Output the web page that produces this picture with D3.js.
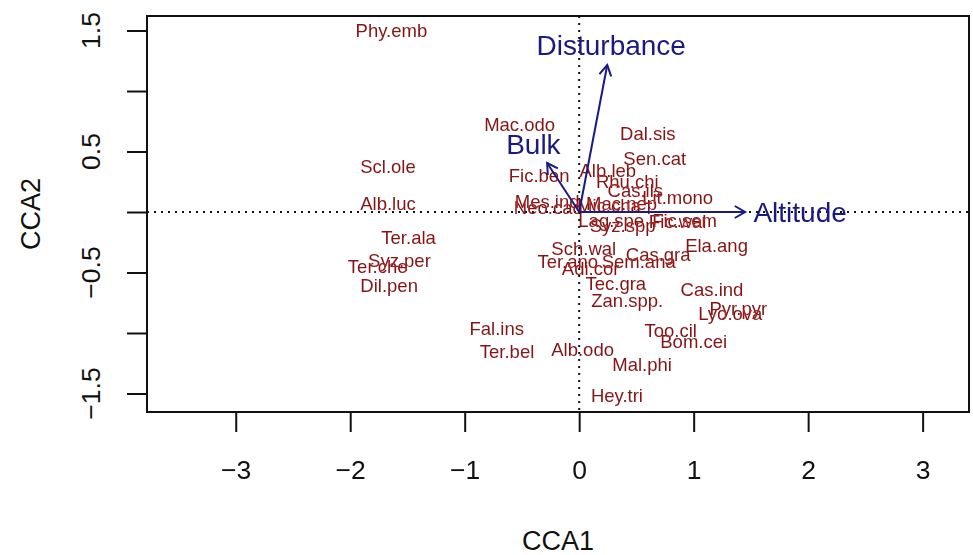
<!DOCTYPE html>
<html>
<head>
<meta charset="utf-8">
<script src="https://cdn.jsdelivr.net/npm/d3@7"></script>
<style>
  html, body { margin: 0; padding: 0; background: #fff; }
  svg { display: block; font-family: "Liberation Sans", Arial, Helvetica, sans-serif; }
</style>
</head>
<body>
<svg id="chart" width="973" height="555"></svg>
<script>
// Species scores (CCA1, CCA2)
const species = ["Phy.emb","Mac.odo","Dal.sis","Sen.cat","Scl.ole","Alb.luc","Fic.ben","Alb.leb",
  "Rhu.chi","Cas.ils","Lit.mono","Mac.nep","Mic.cha","Mes.ind","Neo.cad","Lag.spe","Syz.spp",
  "Fic.wal","Fic.sem","Sch.wal","Cas.gra","Ela.ang","Ter.ano","Adi.cor","Sem.ana","Tec.gra",
  "Zan.spp.","Cas.ind","Lyo.ova","Pyr.pyr","Too.cil","Bom.cei","Mal.phi","Alb.odo","Hey.tri",
  "Ter.bel","Fal.ins","Ter.ala","Syz.per","Ter.che","Dil.pen"];
const cca1 = [-1.64,-0.52,0.60,0.66,-1.67,-1.67,-0.35,0.25,
  0.42,0.49,0.86,0.37,0.26,-0.28,-0.27,0.28,0.38,
  0.86,0.92,0.04,0.69,1.20,-0.10,0.10,0.52,0.32,
  0.42,1.16,1.32,1.39,0.80,1.00,0.55,0.03,0.33,
  -0.63,-0.72,-1.49,-1.57,-1.76,-1.66];
const cca2 = [1.50,0.72,0.65,0.44,0.38,0.07,0.30,0.34,
  0.25,0.18,0.12,0.07,0.05,0.09,0.04,-0.07,-0.11,
  -0.08,-0.07,-0.30,-0.35,-0.28,-0.41,-0.47,-0.41,-0.59,
  -0.73,-0.64,-0.84,-0.80,-0.98,-1.07,-1.26,-1.14,-1.52,
  -1.15,-0.96,-0.21,-0.40,-0.45,-0.61];

// Environmental biplot vectors and their label anchors
const envNames = ["Disturbance","Bulk","Altitude"];
const envX = [0.245,-0.28,1.45];
const envY = [1.215,0.405,0.0];
const envLabelX = [0.28,-0.40,1.93];
const envLabelY = [1.38,0.56,0.0];

// Axis ticks
const xTicks = [-3,-2,-1,0,1,2,3];
const yTicks = [-1.5,-1.0,-0.5,0,0.5,1.0,1.5];
const yTickLabels = [-1.5,-0.5,0.5,1.5];

const svg = d3.select("#chart");
const plotL = 147, plotR = 969, plotT = 16, plotB = 412;

const x = d3.scaleLinear().domain([-3.775, 3.405]).range([plotL, plotR]);
const y = d3.scaleLinear().domain([-1.653, 1.62]).range([plotB, plotT]);

const fmt = v => (v < 0 ? "\u2212" : "") + Math.abs(v);

// Reference lines through the origin
svg.append("line")
  .attr("x1", plotL).attr("x2", plotR).attr("y1", y(0)).attr("y2", y(0))
  .attr("stroke", "#111").attr("stroke-width", 2).attr("stroke-dasharray", "2,5");
svg.append("line")
  .attr("x1", x(0)).attr("x2", x(0)).attr("y1", plotT).attr("y2", plotB)
  .attr("stroke", "#111").attr("stroke-width", 2).attr("stroke-dasharray", "2,5");

// Species labels, overlapping text brightens
const sp = svg.append("g").style("isolation", "isolate");
sp.selectAll("text").data(species).join("text")
  .attr("x", (d, i) => x(cca1[i]))
  .attr("y", (d, i) => y(cca2[i]))
  .attr("text-anchor", "middle")
  .attr("dominant-baseline", "central")
  .attr("font-size", 18.5)
  .attr("fill", "#861414")
  .style("mix-blend-mode", "screen")
  .text(d => d);

// Biplot arrows
const navy = "#1a1a80";
const arrows = svg.append("g");
envNames.forEach((name, i) => {
  const x0 = x(0), y0 = y(0), x1 = x(envX[i]), y1 = y(envY[i]);
  arrows.append("line")
    .attr("x1", x0).attr("y1", y0).attr("x2", x1).attr("y2", y1)
    .attr("stroke", navy).attr("stroke-width", 2);
  const ang = Math.atan2(y1 - y0, x1 - x0);
  const L = 12, a = Math.PI / 6;
  const p1 = [x1 - L * Math.cos(ang - a), y1 - L * Math.sin(ang - a)];
  const p2 = [x1 - L * Math.cos(ang + a), y1 - L * Math.sin(ang + a)];
  arrows.append("path")
    .attr("d", `M${p1[0]},${p1[1]}L${x1},${y1}L${p2[0]},${p2[1]}`)
    .attr("fill", "none").attr("stroke", navy).attr("stroke-width", 2);
  arrows.append("text")
    .attr("x", x(envLabelX[i])).attr("y", y(envLabelY[i]))
    .attr("text-anchor", "middle").attr("dominant-baseline", "central")
    .attr("font-size", 28).attr("fill", navy)
    .text(name);
});

// Plot frame
svg.append("rect")
  .attr("x", plotL).attr("y", plotT).attr("width", plotR - plotL).attr("height", plotB - plotT)
  .attr("fill", "none").attr("stroke", "#111").attr("stroke-width", 2);

// Bottom axis
const xAxis = d3.axisBottom(x).tickValues(xTicks).tickSize(20).tickPadding(28).tickFormat(fmt);
const gx = svg.append("g").attr("transform", `translate(0,${plotB})`).call(xAxis);
gx.select(".domain").remove();
gx.selectAll(".tick line").attr("stroke", "#111").attr("stroke-width", 2);
gx.selectAll(".tick text").attr("font-size", 26.5).attr("fill", "#111")
  .attr("font-family", "Liberation Sans, Arial, sans-serif");

// Left axis
const yAxis = d3.axisLeft(y).tickValues(yTicks).tickSize(20).tickFormat("");
const gy = svg.append("g").attr("transform", `translate(${plotL},0)`).call(yAxis);
gy.select(".domain").remove();
gy.selectAll(".tick line").attr("stroke", "#111").attr("stroke-width", 2);
svg.append("g").selectAll("text").data(yTickLabels).join("text")
  .attr("transform", d => `translate(100,${y(d)}) rotate(-90)`)
  .attr("text-anchor", "middle")
  .attr("font-size", 26.5).attr("fill", "#111")
  .text(d => fmt(d));

// Axis titles
svg.append("text")
  .attr("x", (plotL + plotR) / 2).attr("y", 550)
  .attr("text-anchor", "middle").attr("font-size", 27).attr("fill", "#111")
  .text("CCA1");
svg.append("text")
  .attr("transform", `translate(40,${(plotT + plotB) / 2}) rotate(-90)`)
  .attr("text-anchor", "middle").attr("font-size", 27).attr("fill", "#111")
  .text("CCA2");
</script>
</body>
</html>
